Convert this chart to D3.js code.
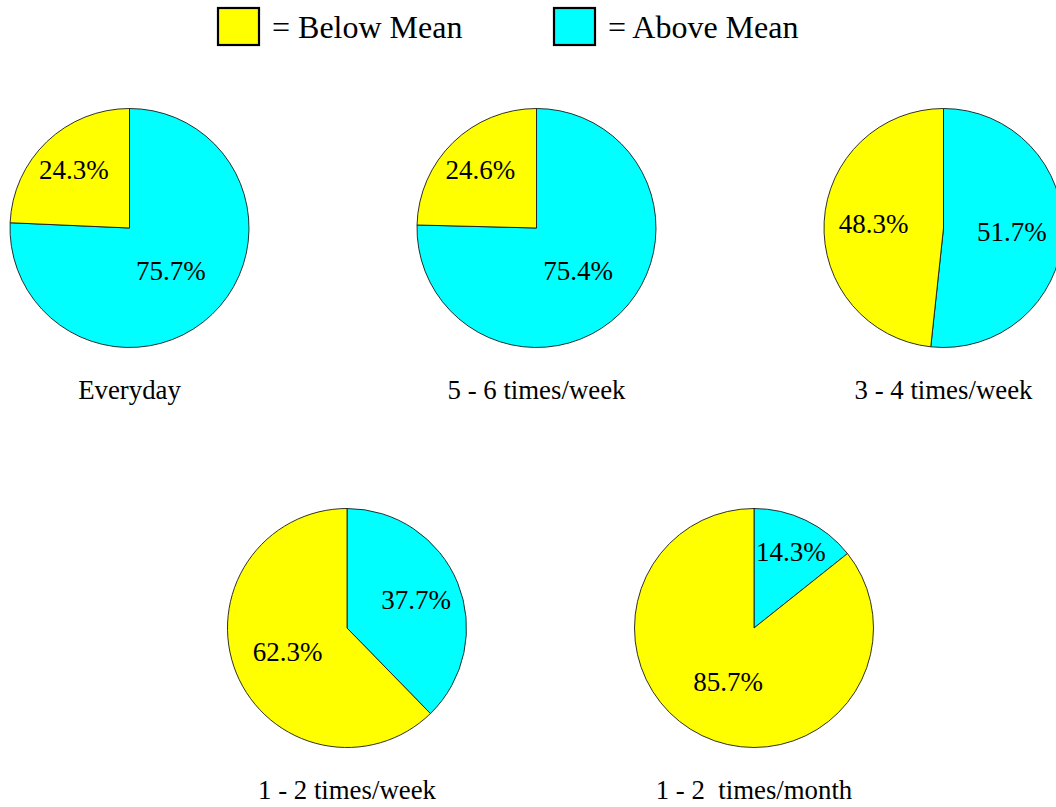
<!DOCTYPE html>
<html>
<head>
<meta charset="utf-8">
<script src="https://cdn.jsdelivr.net/npm/d3@7"></script>
<style>
  html, body { margin: 0; padding: 0; background: #fff; }
  svg { display: block; }
</style>
</head>
<body>
<svg id="chart" width="1056" height="807"></svg>
<script>
// Frequency groups, one pie each
const categories = ["Everyday", "5 - 6 times/week", "3 - 4 times/week", "1 - 2 times/week", "1 - 2  times/month"];
// Share of respondents above / below the mean (%)
const aboveMean = [75.7, 75.4, 51.7, 37.7, 14.3];
const belowMean = [24.3, 24.6, 48.3, 62.3, 85.7];
const seriesNames = ["Above Mean", "Below Mean"];
const seriesColors = ["#00FFFF", "#FFFF00"];
// Pies per row
const rows = [[0, 1, 2], [3, 4]];

const FONT = "'Liberation Serif', 'Times New Roman', Tinos, 'DejaVu Serif', serif";

const svg = d3.select("#chart")
  .attr("font-family", FONT)
  .style("font-family", FONT);
const R = 119.5;
const rowCenters = [228, 628];
const colStep = 407;
const rowStart = [129.5, 347];

const color = d3.scaleOrdinal().domain(seriesNames).range(seriesColors);

// Legend
const legend = [
  { name: "Below Mean", x: 217 },
  { name: "Above Mean", x: 553 }
];
const lg = svg.append("g");
legend.forEach(d => {
  lg.append("rect")
    .attr("x", d.x + 1).attr("y", 8)
    .attr("width", 41).attr("height", 37)
    .attr("fill", color(d.name))
    .attr("stroke", "#000").attr("stroke-width", 2.2);
  lg.append("text")
    .attr("x", d.x + 55).attr("y", 38)
    .attr("font-size", 32)
    .style("font-family", FONT)
    .text("= " + d.name);
});

// Slices run clockwise from 12 o'clock: above-mean first, then below-mean
const pie = d3.pie().sort(null).value(d => d.value);
const arc = d3.arc().innerRadius(0).outerRadius(R);

rows.forEach((row, ri) => {
  row.forEach((ci, k) => {
    const cx = rowStart[ri] + k * colStep;
    const cy = rowCenters[ri];
    const data = [
      { name: "Above Mean", value: aboveMean[ci] },
      { name: "Below Mean", value: belowMean[ci] }
    ];
    const total = d3.sum(data, d => d.value);
    const g = svg.append("g").attr("transform", `translate(${cx},${cy})`);
    const arcs = pie(data);

    g.selectAll("path")
      .data(arcs)
      .join("path")
      .attr("d", arc)
      .attr("fill", d => color(d.data.name))
      .attr("stroke", "#1a1a1a")
      .attr("stroke-width", 0.9)
      .attr("stroke-linejoin", "round");

    // Labels sit along the slice bisector; narrow slices push them outward
    g.selectAll("text.val")
      .data(arcs)
      .join("text")
      .attr("class", "val")
      .attr("font-size", 27)
      .style("font-family", FONT)
      .attr("text-anchor", "middle")
      .attr("transform", d => {
        const f = d.data.value / total;
        const dist = R * Math.max(0.5, 0.76 - 0.36 * f);
        const a = (d.startAngle + d.endAngle) / 2;
        return `translate(${dist * Math.sin(a)},${-dist * Math.cos(a)})`;
      })
      .attr("dy", "0.33em")
      .text(d => d.data.value.toFixed(1) + "%");

    svg.append("text")
      .attr("x", cx).attr("y", cy + R + 51)
      .attr("text-anchor", "middle")
      .attr("font-size", 26.8)
      .style("font-family", FONT)
      .style("white-space", "pre")
      .text(categories[ci]);
  });
});
</script>
</body>
</html>
